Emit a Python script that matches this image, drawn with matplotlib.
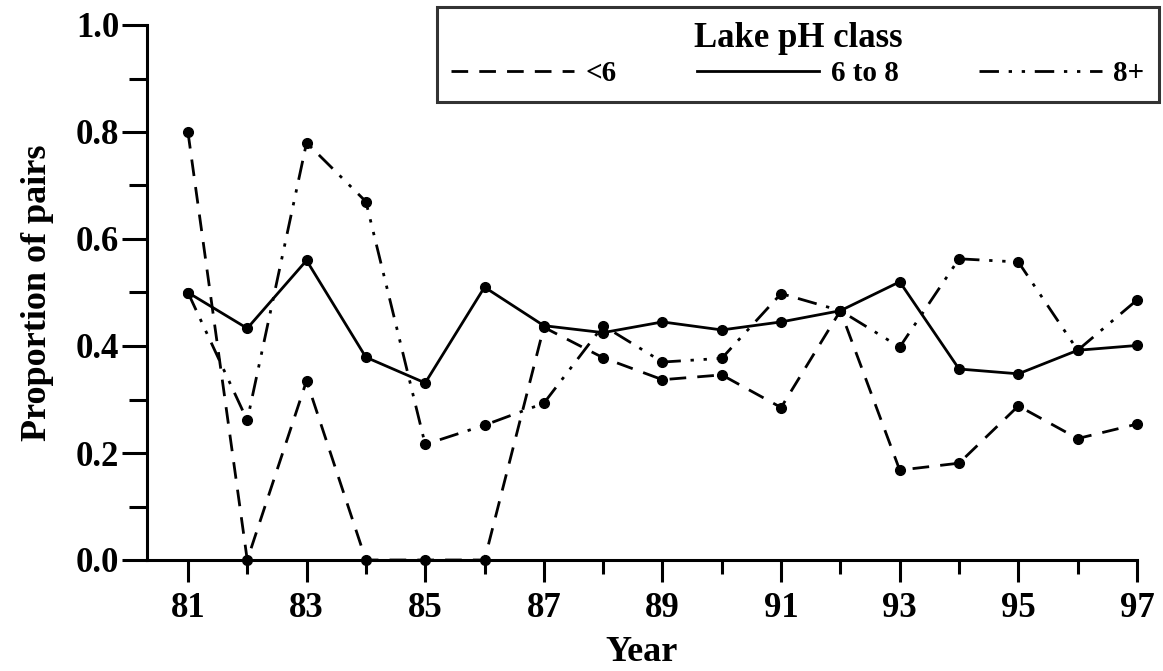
import matplotlib
matplotlib.use("Agg")
import matplotlib.pyplot as plt
from matplotlib.ticker import MultipleLocator, FixedLocator, FormatStrFormatter

years = [81, 82, 83, 84, 85, 86, 87, 88, 89, 90, 91, 92, 93, 94, 95, 96, 97]
ph_low = [0.80, 0.0, 0.335, 0.0, 0.0, 0.0, 0.435, 0.378, 0.337, 0.346, 0.285,
          0.466, 0.168, 0.181, 0.288, 0.227, 0.254]
ph_mid = [0.50, 0.433, 0.56, 0.379, 0.331, 0.51, 0.438, 0.425, 0.445, 0.430, 0.445,
          0.466, 0.52, 0.357, 0.348, 0.392, 0.401]
ph_high = [0.50, 0.261, 0.78, 0.67, 0.216, 0.252, 0.293, 0.438, 0.370, 0.377, 0.498,
           0.466, 0.398, 0.563, 0.557, 0.392, 0.486]
series_labels = ["<6", "6 to 8", "8+"]
legend_title = "Lake pH class"
x_label = "Year"
y_label = "Proportion of pairs"
major_years = [81, 83, 85, 87, 89, 91, 93, 95, 97]
minor_years = [82, 84, 86, 88, 90, 92, 94, 96]

plt.rcParams["font.family"] = ["Liberation Serif", "DejaVu Serif"]
plt.rcParams["font.weight"] = "bold"

W, H = 1163, 671
fig = plt.figure(figsize=(W / 100, H / 100), dpi=100)
ax = fig.add_axes([147 / W, 1 - 560 / H, (1137 - 147) / W, (560 - 25) / H])

lw = 2.0
styles = [(0, (6, 4)), "-", (0, (7, 3.5, 1.2, 3.5, 1.2, 3.5))]
for vals, ls, lab in zip([ph_low, ph_mid, ph_high], styles, series_labels):
    ax.plot(years, vals, color="black", lw=lw, linestyle=ls, marker="o",
            markersize=7, clip_on=False, zorder=3, label=lab)

ax.set_xlim(80.31, 97)
ax.set_ylim(0, 1.0)
ax.spines["top"].set_visible(False)
ax.spines["right"].set_visible(False)
for s in ["left", "bottom"]:
    ax.spines[s].set_linewidth(2.2)

ax.xaxis.set_major_locator(FixedLocator(major_years))
ax.xaxis.set_minor_locator(FixedLocator(minor_years))
ax.yaxis.set_major_locator(MultipleLocator(0.2))
ax.yaxis.set_minor_locator(MultipleLocator(0.1))
ax.yaxis.set_major_formatter(FormatStrFormatter("%.1f"))
ax.tick_params(axis="x", which="major", length=16, width=2.2, pad=7, labelsize=25)
ax.tick_params(axis="x", which="minor", length=10, width=2.2)
ax.tick_params(axis="y", which="major", length=18, width=2.2, pad=2, labelsize=25)
ax.tick_params(axis="y", which="minor", length=13, width=2.2)
for t in ax.get_xticklabels() + ax.get_yticklabels():
    t.set_fontweight("bold")

ax.set_xlabel(x_label, fontsize=26, fontweight="bold", labelpad=8)
ax.set_ylabel(y_label, fontsize=26, fontweight="bold", labelpad=16)

leg_handles = []
for ls in styles:
    l2, = ax.plot([], [], color="black", lw=lw, linestyle=ls)
    leg_handles.append(l2)
leg = fig.legend(leg_handles, series_labels, ncol=3, title=legend_title,
                 loc="upper right",
                 bbox_to_anchor=(1159 / W, 1 - 7 / H),
                 bbox_transform=fig.transFigure,
                 fontsize=21, title_fontsize=25, handlelength=4.2,
                 handletextpad=0.4, columnspacing=2.75, frameon=True,
                 fancybox=False, borderpad=0.5, labelspacing=0.2,
                 borderaxespad=0)
leg.get_title().set_fontweight("bold")
leg.get_frame().set_edgecolor("black")
leg.get_frame().set_linewidth(2.2)
for t in leg.get_texts():
    t.set_fontweight("bold")

fig.savefig("out.png", dpi=100, facecolor="white")
